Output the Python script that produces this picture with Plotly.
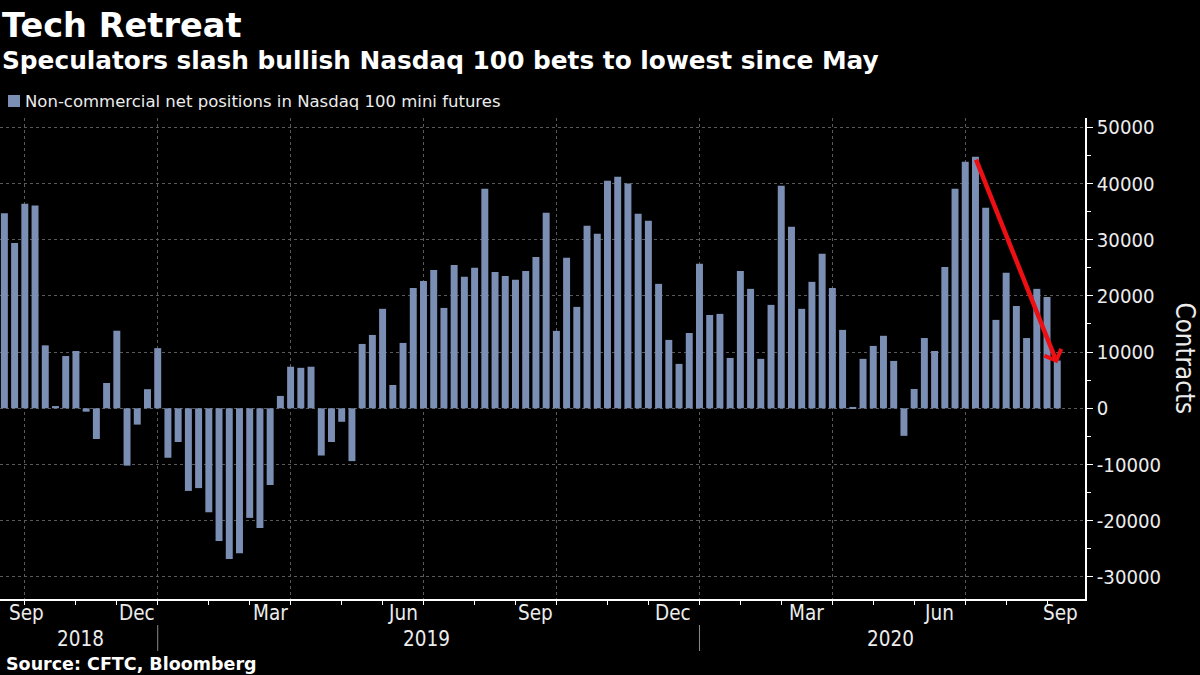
import pandas as pd
import plotly.graph_objects as go

title = "Tech Retreat"
subtitle = "Speculators slash bullish Nasdaq 100 bets to lowest since May"
series_name = "Non-commercial net positions in Nasdaq 100 mini futures"
source = "Source: CFTC, Bloomberg"
y_title = "Contracts"

net_positions = [
    34700, 29400, 36400, 36100, 11200, 400, 9300, 10200, -600, -5460,
    4500, 13800, -10200, -2900, 3400, 10700, -8800, -6000, -14700, -14200,
    -18500, -23600, -26800, -25800, -19500, -21300, -13650, 2200, 7400, 7200,
    7400, -8400, -6000, -2400, -9400, 11450, 13050, 17700, 4150,
    11630, 21400, 22670, 24600, 17860, 25500, 23400, 25000, 39050, 24270,
    23560, 22850, 24450, 26940, 34800, 13770, 26770, 18040, 32460, 31040,
    40470, 41190, 40000, 34600, 33350, 22140, 12170, 7900, 13400, 25700,
    16600, 16800, 8960, 24450, 21250, 8800, 18400, 39600,
    32300, 17700, 22500, 27500, 21400, 13950, 240, 8800, 11100, 12900,
    8430, -4900, 3440, 12500, 10200, 25160, 39050, 43860, 44750, 35670,
    15730, 24100, 18200, 12500, 21250, 19800, 8500,
]
first_week = "2018-09-18"
week_dates = pd.date_range(first_week, periods=len(net_positions), freq="7D")

quarter_ticks = ["2018-10-02", "2019-01-01", "2019-04-02", "2019-07-02", "2019-10-01",
                 "2020-01-07", "2020-04-07", "2020-07-07"]
month_ticks = ["2018-11-06", "2018-12-04", "2019-02-05", "2019-03-05", "2019-05-07",
               "2019-06-04", "2019-08-06", "2019-09-03", "2019-11-05", "2019-12-03",
               "2020-02-04", "2020-03-03", "2020-05-05", "2020-06-02", "2020-08-04",
               "2020-09-01"]
month_labels = ["Sep", "Dec", "Mar", "Jun", "Sep", "Dec", "Mar", "Jun", "Sep"]
month_label_dates = ["2018-10-03", "2018-12-18", "2019-03-19", "2019-06-18", "2019-09-17",
                     "2019-12-20", "2020-03-20", "2020-06-19", "2020-09-10"]
year_labels = ["2018", "2019", "2020"]
year_label_dates = ["2018-11-09", "2019-07-04", "2020-05-17"]
year_breaks = ["2019-01-01", "2020-01-07"]

y_ticks = [-30000, -20000, -10000, 0, 10000, 20000, 30000, 40000, 50000]
y_tick_labels = ["-30000", "-20000", "-10000", "0", "10000", "20000", "30000", "40000", "50000"]
y_minor_ticks = [-25000, -15000, -5000, 5000, 15000, 25000, 35000, 45000]

arrow_from = ("2020-07-14", 44500)
arrow_to = ("2020-09-08", 8000)

W, H = 1200, 675
L, R, T, B = 0, 114.5, 118, 76
FONT = "DejaVu Sans"
COND = "DejaVu Sans Condensed, DejaVu Sans"
BAR = "#7b8fb5"
GRID = "#5a5a5a"
TEXT = "#ececec"


def px(x):
    return (x - L) / (W - L - R)


def py(y):
    return 1 - (y - T) / (H - T - B)


fig = go.Figure(go.Bar(x=week_dates, y=net_positions, name=series_name,
                       marker=dict(color=BAR, line_width=0), showlegend=False))

annotations = [
    dict(x=px(0), y=py(25), text=f"<b>{title}</b>", font=dict(size=33.6, color="white")),
    dict(x=px(0), y=py(60), text=f"<b>{subtitle}</b>", font=dict(size=24.8, color="white")),
    dict(x=px(23), y=py(101), text=series_name, font=dict(size=16.5, color=TEXT)),
    dict(x=px(4), y=py(664), text=f"<b>{source}</b>", font=dict(size=17.5, color="white")),
]
annotations = [dict(a, xref="paper", yref="paper", xanchor="left", yanchor="middle",
                    showarrow=False) for a in annotations]
annotations.append(dict(x=px(1186), y=py(358), xref="paper", yref="paper", text=y_title,
                        textangle=90, showarrow=False, xanchor="center", yanchor="middle",
                        font=dict(family=COND, size=25.7, color=TEXT)))
for lab, d in zip(month_labels, month_label_dates):
    annotations.append(dict(x=d, y=py(613), xref="x", yref="paper", text=lab, showarrow=False,
                            xanchor="center", yanchor="middle",
                            font=dict(family=COND, size=20.5, color=TEXT)))
for lab, d in zip(year_labels, year_label_dates):
    annotations.append(dict(x=d, y=py(639), xref="x", yref="paper", text=lab, showarrow=False,
                            xanchor="center", yanchor="middle",
                            font=dict(family=COND, size=20.5, color=TEXT)))
annotations.append(dict(x=arrow_to[0], y=arrow_to[1], ax=arrow_from[0], ay=arrow_from[1],
                        xref="x", yref="y", axref="x", ayref="y", text="", showarrow=True,
                        arrowhead=4, arrowsize=0.78, arrowwidth=4.5, arrowcolor="#ee0f14"))

shapes = [dict(type="line", xref="x", yref="paper", x0=d, x1=d, y0=py(625), y1=py(651),
               line=dict(color="#8a8a8a", width=1)) for d in year_breaks]
shapes.append(dict(type="rect", xref="paper", yref="paper", x0=px(8), x1=px(20),
                   y0=py(107), y1=py(95), fillcolor=BAR, line_width=0))

fig.update_layout(
    width=W, height=H, autosize=False,
    margin=dict(l=L, r=R, t=T, b=B, pad=0),
    paper_bgcolor="black", plot_bgcolor="black",
    font=dict(family=FONT, color="white"),
    bargap=0.32, showlegend=False,
    annotations=annotations, shapes=shapes,
    xaxis=dict(
        type="date", range=["2018-09-15", "2020-09-27"],
        tickmode="array", tickvals=quarter_ticks, showticklabels=False,
        ticks="outside", ticklen=4, tickcolor="white", tickwidth=1,
        minor=dict(tickmode="array", tickvals=month_ticks, ticks="outside", ticklen=4,
                   tickcolor="white", tickwidth=1, showgrid=False),
        showgrid=True, gridcolor=GRID, griddash="dot", gridwidth=1,
        showline=True, linecolor="white", linewidth=1.5, zeroline=False,
    ),
    yaxis=dict(
        side="right", range=[-33930, 51650],
        tickmode="array", tickvals=y_ticks, ticktext=y_tick_labels,
        ticks="outside", ticklen=6, tickcolor="white", tickwidth=1,
        tickfont=dict(family=COND, size=20.2, color=TEXT),
        minor=dict(tickmode="array", tickvals=y_minor_ticks, ticks="outside", ticklen=4,
                   tickcolor="white", tickwidth=1, showgrid=False),
        showgrid=True, gridcolor=GRID, griddash="dot", gridwidth=1,
        showline=True, linecolor="white", linewidth=1.5, zeroline=False,
    ),
)

fig.write_html("out.html", config={"displayModeBar": False},
               post_script="document.body.style.margin='0';document.body.style.background='black';")
